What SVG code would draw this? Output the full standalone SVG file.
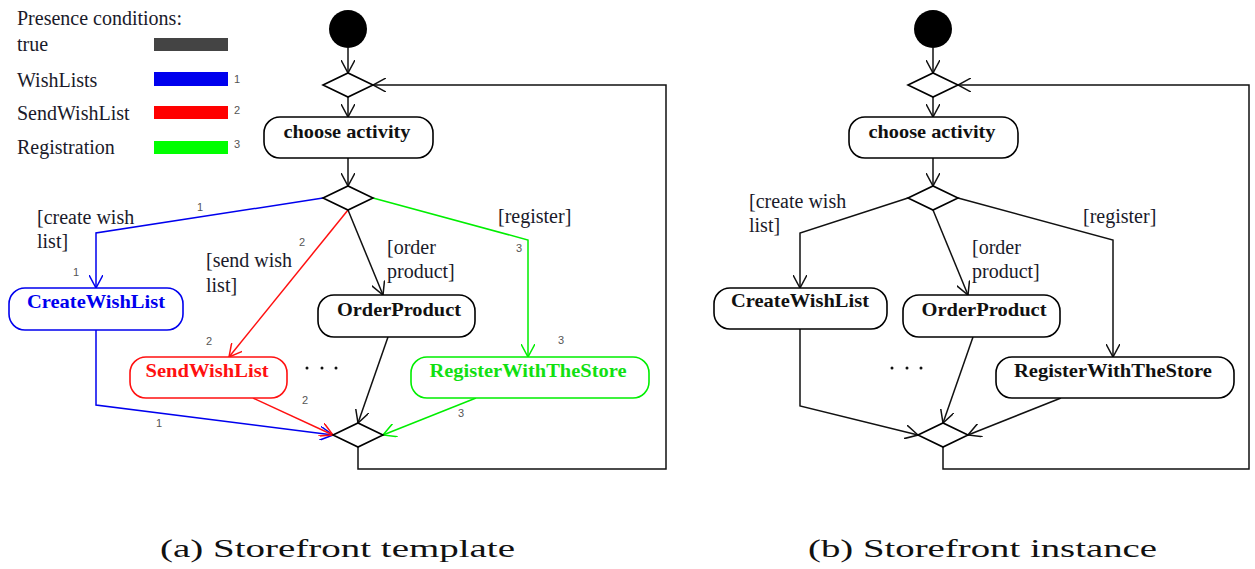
<svg xmlns="http://www.w3.org/2000/svg" width="1255" height="569" viewBox="0 0 1255 569">
<style>
.bg{fill:#fff}
.node{fill:#fff;stroke:#000;stroke-width:1.6}
.dia{fill:#fff;stroke:#000;stroke-width:1.6}
.nt{font-family:"Liberation Serif",serif;font-weight:bold;font-size:19px;fill:#111;text-anchor:middle}
.lb{font-family:"Liberation Serif",serif;font-size:20px;fill:#1a1a2a}
.num{font-family:"Liberation Sans",sans-serif;font-size:11px;fill:#555;text-anchor:middle}
.cap{font-family:"Liberation Serif",serif;font-size:26px;fill:#111}
.e{fill:none;stroke-width:1.5}
.k{stroke:#111}
.b{stroke:#0000ee}
.r{stroke:#ff1010}
.g{stroke:#00ee00}
.ek{marker-end:url(#ak)}
.eb{marker-end:url(#ab)}
.er{marker-end:url(#ar)}
.eg{marker-end:url(#ag)}
</style>
<defs>
<marker id="ak" markerUnits="userSpaceOnUse" viewBox="0 0 14 14" refX="13" refY="7" markerWidth="14" markerHeight="14" orient="auto"><path d="M0,0 L13,7 L0,14" fill="none" stroke="#111" stroke-width="1.5"/></marker>
<marker id="ab" markerUnits="userSpaceOnUse" viewBox="0 0 14 14" refX="13" refY="7" markerWidth="14" markerHeight="14" orient="auto"><path d="M0,0 L13,7 L0,14" fill="none" stroke="#0000ee" stroke-width="1.5"/></marker>
<marker id="ar" markerUnits="userSpaceOnUse" viewBox="0 0 14 14" refX="13" refY="7" markerWidth="14" markerHeight="14" orient="auto"><path d="M0,0 L13,7 L0,14" fill="none" stroke="#ff1010" stroke-width="1.5"/></marker>
<marker id="ag" markerUnits="userSpaceOnUse" viewBox="0 0 14 14" refX="13" refY="7" markerWidth="14" markerHeight="14" orient="auto"><path d="M0,0 L13,7 L0,14" fill="none" stroke="#00ee00" stroke-width="1.5"/></marker>
</defs>
<rect class="bg" x="0" y="0" width="1255" height="569"/>

<g id="legend">
<text class="lb" x="17" y="25">Presence conditions:</text>
<text class="lb" x="17" y="51">true</text>
<rect x="154" y="38" width="74" height="13" fill="#444"/>
<text class="lb" x="17" y="87">WishLists</text>
<rect x="154" y="72" width="74" height="14" fill="#0000ee"/>
<text class="num" x="237" y="83">1</text>
<text class="lb" x="17" y="120">SendWishList</text>
<rect x="154" y="106" width="74" height="13" fill="#ff0000"/>
<text class="num" x="237" y="114">2</text>
<text class="lb" x="17" y="154">Registration</text>
<rect x="154" y="141" width="74" height="13" fill="#00ff00"/>
<text class="num" x="237" y="148">3</text>
</g>

<g id="connectors-a">
<path class="e k ek" d="M348,48 L348,73"/>
<path class="e k ek" d="M348,97 L348,117"/>
<path class="e k ek" d="M348,158 L348,186"/>
<path class="e k ek" d="M358,447 L358,469 L666,469 L666,85 L373,85"/>
<path class="e b eb" d="M323,198 L96,233 L96,288"/>
<path class="e r er" d="M348,210 L229,357"/>
<path class="e k ek" d="M348,210 L383,295"/>
<path class="e g eg" d="M373,198 L528,240 L528,357"/>
<path class="e b eb" d="M96,330 L96,405 L333,435"/>
<path class="e r er" d="M253,398 L333,435"/>
<path class="e k ek" d="M388,337 L358,423"/>
<path class="e g eg" d="M476,398 L383,435"/>
</g>

<g id="labels-a">
<text class="lb" x="37" y="224">[create wish</text>
<text class="lb" x="37" y="248">list]</text>
<text class="lb" x="206" y="267">[send wish</text>
<text class="lb" x="206" y="292">list]</text>
<text class="lb" x="387" y="254">[order</text>
<text class="lb" x="387" y="278">product]</text>
<text class="lb" x="498" y="223">[register]</text>
<text class="num" x="200" y="211">1</text>
<text class="num" x="76" y="276">1</text>
<text class="num" x="302" y="246">2</text>
<text class="num" x="209" y="345">2</text>
<text class="num" x="305" y="404">2</text>
<text class="num" x="159" y="427">1</text>
<text class="num" x="519" y="252">3</text>
<text class="num" x="561" y="344">3</text>
<text class="num" x="461" y="417">3</text>
<g fill="#111"><circle cx="307" cy="368" r="1.5"/><circle cx="322" cy="368" r="1.5"/><circle cx="336" cy="368" r="1.5"/></g>
</g>

<g id="a-start"><circle cx="348" cy="29" r="19" fill="#000"/></g>
<g id="a-decision1"><polygon class="dia" points="323,85 348,73 373,85 348,97"/></g>
<g id="a-choose"><rect class="node" x="264" y="117" width="169" height="41" rx="16"/><text class="nt" x="347" y="138" textLength="127" lengthAdjust="spacingAndGlyphs">choose activity</text></g>
<g id="a-decision2"><polygon class="dia" points="323,198 348,186 373,198 348,210"/></g>
<g id="a-createwishlist"><rect class="node" x="9" y="288" width="174" height="42" rx="16" style="stroke:#0000ee"/><text class="nt" x="96" y="308" textLength="138" lengthAdjust="spacingAndGlyphs" style="fill:#0000ee">CreateWishList</text></g>
<g id="a-sendwishlist"><rect class="node" x="130" y="357" width="157" height="41" rx="16" style="stroke:#ff1010"/><text class="nt" x="207" y="377" textLength="123" lengthAdjust="spacingAndGlyphs" style="fill:#ff1010">SendWishList</text></g>
<g id="a-orderproduct"><rect class="node" x="318" y="295" width="157" height="42" rx="16"/><text class="nt" x="399" y="316" textLength="124" lengthAdjust="spacingAndGlyphs">OrderProduct</text></g>
<g id="a-register"><rect class="node" x="411" y="357" width="238" height="41" rx="16" style="stroke:#00ee00"/><text class="nt" x="528" y="377" textLength="197" lengthAdjust="spacingAndGlyphs" style="fill:#11e011">RegisterWithTheStore</text></g>
<g id="a-merge"><polygon class="dia" points="333,435 358,423 383,435 358,447"/></g>

<g id="connectors-b">
<path class="e k ek" d="M933,48 L933,73"/>
<path class="e k ek" d="M933,97 L933,117"/>
<path class="e k ek" d="M933,158 L933,186"/>
<path class="e k ek" d="M943,447 L943,469 L1249,469 L1249,85 L958,85"/>
<path class="e k ek" d="M908,198 L800,233 L800,288"/>
<path class="e k ek" d="M933,210 L968,295"/>
<path class="e k ek" d="M958,198 L1113,240 L1113,357"/>
<path class="e k ek" d="M800,329 L800,406 L918,435"/>
<path class="e k ek" d="M973,337 L943,423"/>
<path class="e k ek" d="M1061,398 L968,435"/>
</g>

<g id="labels-b">
<text class="lb" x="749" y="208">[create wish</text>
<text class="lb" x="749" y="232">list]</text>
<text class="lb" x="972" y="254">[order</text>
<text class="lb" x="972" y="278">product]</text>
<text class="lb" x="1083" y="223">[register]</text>
<g fill="#111"><circle cx="892" cy="368" r="1.5"/><circle cx="907" cy="368" r="1.5"/><circle cx="921" cy="368" r="1.5"/></g>
</g>

<g id="b-start"><circle cx="933" cy="29" r="19" fill="#000"/></g>
<g id="b-decision1"><polygon class="dia" points="908,85 933,73 958,85 933,97"/></g>
<g id="b-choose"><rect class="node" x="849" y="117" width="169" height="41" rx="16"/><text class="nt" x="932" y="138" textLength="127" lengthAdjust="spacingAndGlyphs">choose activity</text></g>
<g id="b-decision2"><polygon class="dia" points="908,198 933,186 958,198 933,210"/></g>
<g id="b-createwishlist"><rect class="node" x="714" y="288" width="173" height="41" rx="16"/><text class="nt" x="800" y="307" textLength="138" lengthAdjust="spacingAndGlyphs">CreateWishList</text></g>
<g id="b-orderproduct"><rect class="node" x="903" y="295" width="157" height="42" rx="16"/><text class="nt" x="984" y="316" textLength="125" lengthAdjust="spacingAndGlyphs">OrderProduct</text></g>
<g id="b-register"><rect class="node" x="996" y="357" width="238" height="41" rx="16"/><text class="nt" x="1113" y="377" textLength="198" lengthAdjust="spacingAndGlyphs">RegisterWithTheStore</text></g>
<g id="b-merge"><polygon class="dia" points="918,435 943,423 968,435 943,447"/></g>

<g id="captions">
<text class="cap" x="160" y="557" textLength="355" lengthAdjust="spacingAndGlyphs">(a) Storefront template</text>
<text class="cap" x="808" y="557" textLength="349" lengthAdjust="spacingAndGlyphs">(b) Storefront instance</text>
</g>
</svg>
